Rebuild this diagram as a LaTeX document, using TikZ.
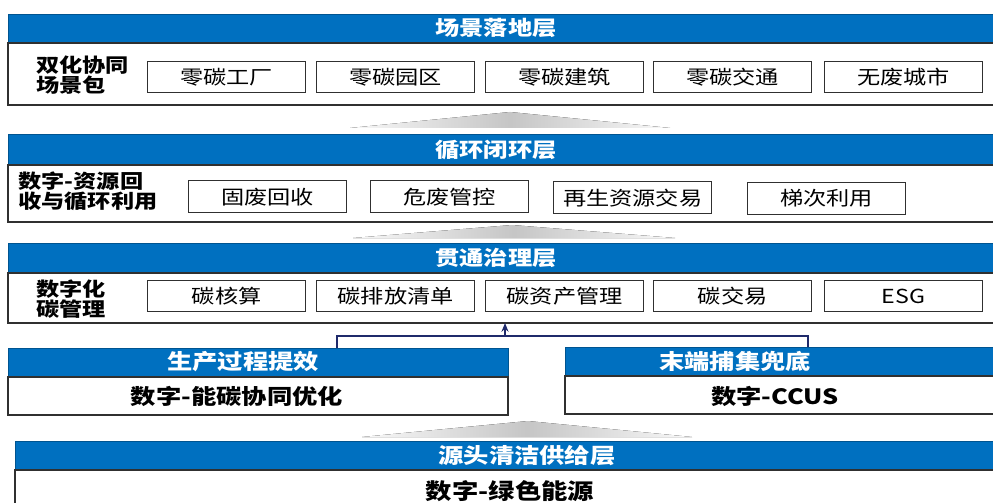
\documentclass[tikz,border=0pt]{standalone}
\usepackage{fontspec}
\setmainfont[FakeStretch=1.2]{Noto Sans CJK SC}
\usetikzlibrary{positioning,arrows.meta}
\definecolor{barblue}{HTML}{0070C0}
\definecolor{linknavy}{HTML}{1F2A6B}
\definecolor{edgegray}{HTML}{303030}
\tikzset{
  sz/.style 2 args={minimum width=#1*0.02cm, minimum height=#2*0.02cm},
  bar/.style={fill=barblue, draw=barblue!75!black, line width=0.5pt,
    inner sep=0pt, outer sep=0pt, anchor=north west},
  body/.style={fill=white, draw=edgegray, line width=0.8pt,
    inner sep=0pt, outer sep=0pt, anchor=north west},
  title/.style={text=white, font=\fontsize{11.5}{13}\selectfont\bfseries, inner sep=0pt},
  subtitle/.style={text=white, font=\fontsize{12}{14}\selectfont\bfseries, inner sep=0pt},
  item/.style={draw=edgegray, line width=0.8pt, sz={158}{31}, anchor=north west,
    inner sep=0pt, font=\fontsize{11}{13}\selectfont},
  tag/.style={anchor=west, align=left, inner sep=0pt,
    font=\fontsize{11}{11.5}\selectfont\bfseries},
  bodytext/.style={inner sep=0pt, font=\fontsize{12}{14}\selectfont\bfseries},
  wedge/.style={left color=gray!5, right color=gray!5, middle color=gray!45},
  link/.style={draw=linknavy, line width=0.7pt}
}

\begin{document}
\begin{tikzpicture}[x=0.02cm, y=-0.02cm]
    \path[use as bounding box] (0,0) rectangle (993,503);
    \clip (0,0) rectangle (993,503);

    % scene layer
    \node[bar, sz={992}{29}] (scenebar) at (8,14) {};
    \node[body, sz={992}{62}] (scene) at (8,43) {};
    \node[title] (scenetitle) at (496,28) {场景落地层};
    \node[tag] (scenetag) at (36,75) {双化协同\\场景包};
    \node[item] (s1) at (147,61) {零碳工厂};
    \node[item] (s2) at (316,61) {零碳园区};
    \node[item] (s3) at (485,61) {零碳建筑};
    \node[item] (s4) at (653,61) {零碳交通};
    \node[item] (s5) at (824,61) {无废城市};

    \fill[wedge] (350,128) -- (510,112) -- (670,128) -- cycle;

    % recycling layer
    \node[bar, sz={992}{31}] (loopbar) at (8,134) {};
    \node[body, sz={992}{57}] (loop) at (8,165) {};
    \node[title] (looptitle) at (496,150) {循环闭环层};
    \node[tag] (looptag) at (18,191) {数字-资源回\\收与循环利用};
    \node[item, sz={158}{32}] (r1) at (188,180) {固废回收};
    \node[item, sz={158}{32}] (r2) at (370,180) {危废管控};
    \node[item, sz={158}{32}] (r3) at (553,181) {再生资源交易};
    \node[item, sz={158}{32}] (r4) at (747,182) {梯次利用};

    \fill[wedge] (353,238) -- (512,225) -- (675,238) -- cycle;

    % governance layer
    \node[bar, sz={992}{30}] (govbar) at (8,243) {};
    \node[body, sz={992}{50}] (gov) at (8,273) {};
    \node[title] (govtitle) at (496,258) {贯通治理层};
    \node[tag] (govtag) at (36,299) {数字化\\碳管理};
    \node[item] (g1) at (147,280) {碳核算};
    \node[item] (g2) at (316,280) {碳排放清单};
    \node[item] (g3) at (485,280) {碳资产管理};
    \node[item] (g4) at (653,280) {碳交易};
    \node[item] (g5) at (824,280) {ESG};

    % two middle blocks
    \node[bar, sz={500}{29}] (prodbar) at (8,348) {};
    \node[body, sz={500}{38}] (prod) at (8,377) {};
    \node[subtitle] (prodtitle) at (243,362) {生产过程提效};
    \node[bodytext] (prodtext) at (237,396) {数字-能碳协同优化};

    \node[bar, sz={435}{29}] (ccusbar) at (565,347) {};
    \node[body, sz={435}{38}] (ccus) at (565,376) {};
    \node[subtitle] (ccustitle) at (735,361) {末端捕集兜底};
    \node[bodytext] (ccustext) at (775,396) {数字-CCUS};

    \coordinate (jl) at (337,336);
    \coordinate (jm) at (505,336);
    \coordinate (jr) at (808,336);
    \draw[link] (prodbar.north -| jl) -- (jl) -- (jr) -- (ccusbar.north -| jr);
    \draw[link, -{Stealth[length=5pt, width=4pt]}] (jm) -- (gov.south -| jm);

    \fill[wedge] (362,437) -- (528,421) -- (692,437) -- cycle;

    % source layer
    \node[bar, sz={985}{29}] (srcbar) at (15,441) {};
    \node[body, sz={985}{45}] (src) at (15,470) {};
    \node[subtitle] (srctitle) at (527,456) {源头清洁供给层};
    \node[bodytext, font=\fontsize{12.5}{15}\selectfont\bfseries] (srctext) at (510,491) {数字-绿色能源};
\end{tikzpicture}
\end{document}
